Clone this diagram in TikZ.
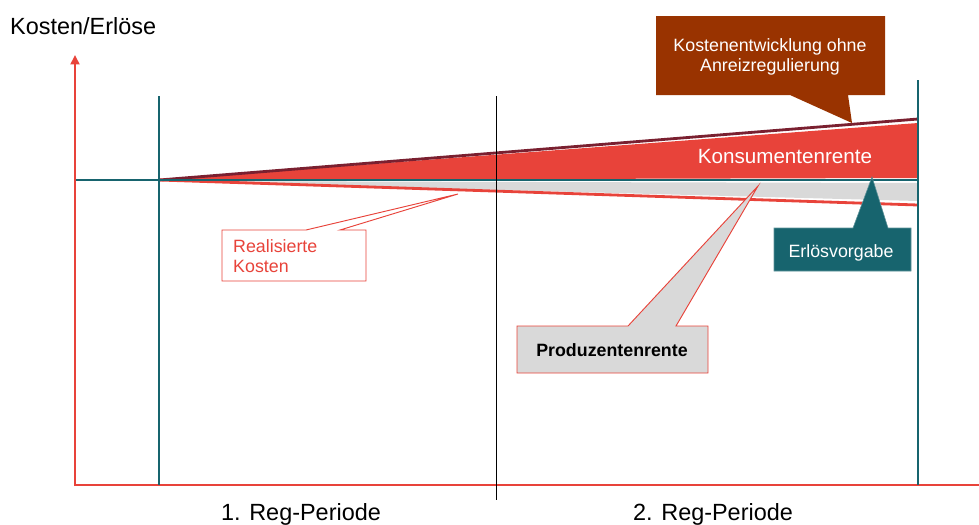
\documentclass[tikz,border=0pt]{standalone}
\usepackage{fontspec}
\setmainfont{Liberation Sans}
\usetikzlibrary{arrows.meta}
\definecolor{cred}{HTML}{E8433A}
\definecolor{cteal}{HTML}{17646E}
\definecolor{cmaroon}{HTML}{7A2030}
\definecolor{cbrown}{HTML}{993300}
\definecolor{cgray}{HTML}{D9D9D9}
\tikzset{
  axisline/.style={cred, line width=2.5pt},
  tealline/.style={cteal, line width=2.5pt},
  txt/.style={inner sep=0pt, font=\fontsize{15.2}{17.5}\selectfont},
  bigtxt/.style={inner sep=0pt, font=\fontsize{20}{22}\selectfont},
}
\begin{document}
\begin{tikzpicture}[x=0.03cm,y=-0.03cm]
\useasboundingbox (0,0) rectangle (979,524);
% fills
\fill[cgray] (159,181) -- (918,183) -- (918,201) -- cycle;
\fill[cred] (159,180) -- (918,123) -- (918,178) -- cycle;
% lines
\draw[cmaroon, line width=2.4pt] (159,180) -- (918,119);
\draw[cred, line width=2.4pt] (159,180) -- (918,205);
\draw[tealline] (75,180) -- (918,180);
% axes
\draw[axisline, -{Triangle[length=8pt,width=7.5pt]}] (75,486) -- (75,55);
\draw[axisline] (74,485) -- (979,485);
\draw[tealline] (159,96) -- (159,485);
\draw[tealline] (918,80) -- (918,485);
\draw[black, line width=0.8pt] (496,96) -- (496,500);
% callouts
\fill[cbrown] (656,16) -- (885,16) -- (885,95) -- (848,95) -- (852,123) -- (790,95) -- (656,95) -- cycle;
\filldraw[fill=cteal, draw=cteal!70!white, line width=0.5pt] (774,228) -- (853,228) -- (872,177) -- (888,228) -- (911,228) -- (911,271) -- (774,271) -- cycle;
\filldraw[fill=cgray, draw=cred, line width=0.8pt] (517,326) -- (628,326) -- (758,186) -- (676,326) -- (708,326) -- (708,373) -- (517,373) -- cycle;
\filldraw[fill=white, draw=cred, line width=0.8pt] (222,230) -- (306,230) -- (458,194) -- (340,230) -- (366,230) -- (366,281) -- (222,281) -- cycle;
% texts
\node[bigtxt, anchor=base west] (ylab) at (10,34) {Kosten/Erlöse};
\node[bigtxt, anchor=base] (p1) at (301,520) {1. Reg-Periode};
\node[bigtxt, anchor=base] (p2) at (713,520) {2. Reg-Periode};
\node[inner sep=0pt, font=\fontsize{17.6}{20}\selectfont, text=white, anchor=base] (kr) at (785,163) {Konsumentenrente};
\node[txt, text=white, align=center, anchor=center] (ke) at (770,57) {Kostenentwicklung ohne\\Anreizregulierung};
\node[txt, text=white, anchor=base] (ev) at (841,257) {Erlösvorgabe};
\node[txt, text=cred, align=left, anchor=west] (rk) at (233,256) {Realisierte\\Kosten};
\node[txt, font=\fontsize{15.2}{17.5}\selectfont\bfseries, anchor=base] (pr) at (612,356) {Produzentenrente};
\end{tikzpicture}
\end{document}
